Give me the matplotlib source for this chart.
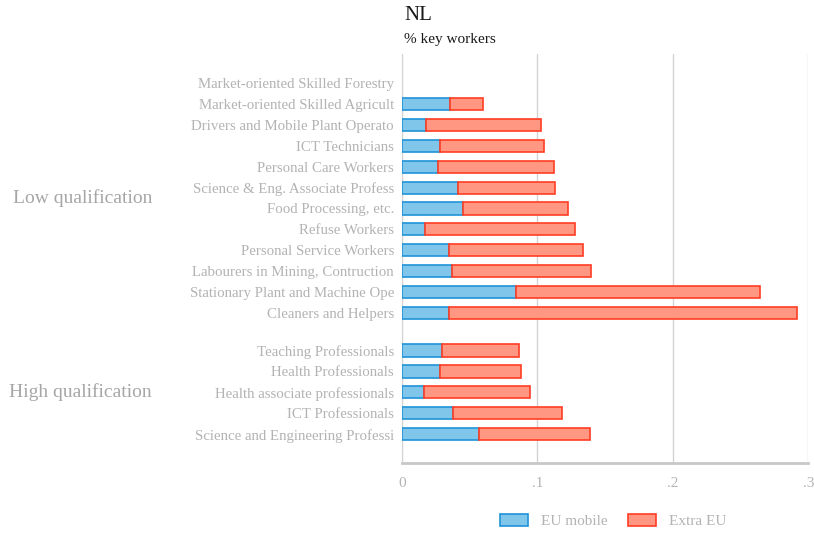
import matplotlib
matplotlib.use("Agg")
import matplotlib.pyplot as plt
import matplotlib.transforms as mtransforms
from matplotlib.patches import Patch

# Occupations, top to bottom within each qualification group
low_labels = [
    "Market-oriented Skilled Forestry",
    "Market-oriented Skilled Agricult",
    "Drivers and Mobile Plant Operato",
    "ICT Technicians",
    "Personal Care Workers",
    "Science & Eng. Associate Profess",
    "Food Processing, etc.",
    "Refuse Workers",
    "Personal Service Workers",
    "Labourers in Mining, Contruction",
    "Stationary Plant and Machine Ope",
    "Cleaners and Helpers",
]
low_eu = [0.0, 0.0353, 0.0176, 0.0282, 0.0267, 0.0414, 0.0451, 0.0174, 0.0346, 0.0368, 0.0846, 0.0348]
low_total = [0.0, 0.060, 0.1027, 0.1047, 0.112, 0.1128, 0.1225, 0.1282, 0.134, 0.140, 0.2642, 0.2917]

high_labels = [
    "Teaching Professionals",
    "Health Professionals",
    "Health associate professionals",
    "ICT Professionals",
    "Science and Engineering Professi",
]
high_eu = [0.030, 0.0285, 0.0164, 0.0378, 0.0571]
high_total = [0.0864, 0.0881, 0.0945, 0.1181, 0.1389]

group_names = ["Low qualification", "High qualification"]
x_ticks = [0, 0.1, 0.2, 0.3]
x_ticklabels = ["0", ".1", ".2", ".3"]

BLUE_FILL, BLUE_EDGE = "#80c6ea", "#1f93d8"
RED_FILL, RED_EDGE = "#ff9782", "#ff3d22"
GREY = "#b3b3b3"

plt.rcParams["font.family"] = ["Liberation Serif", "DejaVu Serif"]

# row positions: low group 0..11, then a gap before the high group
gap_start = 12.8
low_y = list(range(len(low_labels)))
high_y = [gap_start + i for i in range(len(high_labels))]

labels = low_labels + high_labels
ypos = low_y + high_y
eu = low_eu + high_eu
extra = [t - e for t, e in zip(low_total + high_total, low_eu + high_eu)]

fig = plt.figure(figsize=(8.14, 5.35), dpi=100)
ax = fig.add_axes([0.4935, 0.135, 0.4995, 0.764])

bh = 0.58
# empty categories get no outline
lw_eu = [1.2 if v > 0 else 0 for v in eu]
lw_extra = [1.2 if v > 0 else 0 for v in extra]
ax.barh(ypos, eu, height=bh, color=BLUE_FILL, edgecolor=BLUE_EDGE, linewidth=lw_eu, zorder=3)
ax.barh(ypos, extra, left=eu, height=bh, color=RED_FILL, edgecolor=RED_EDGE, linewidth=lw_extra, zorder=3)

ax.set_ylim(18.17, -1.39)
ax.set_xlim(0, 0.3)
ax.set_yticks(ypos)
ax.set_yticklabels(labels, fontsize=10.75, color=GREY)
ax.set_xticks(x_ticks)
ax.set_xticklabels(x_ticklabels, fontsize=11, color=GREY)
ax.tick_params(axis="y", length=0, pad=5.5)
ax.tick_params(axis="x", length=0, pad=10)

ax.grid(axis="x", color="#d4d4d4", linewidth=1, zorder=0)
for side in ("top", "right"):
    ax.spines[side].set_visible(False)
ax.spines["left"].set_color("#d4d4d4")
ax.spines["bottom"].set_color("#c8c8c8")
ax.spines["bottom"].set_linewidth(2)

# group labels on the far left
trans = mtransforms.blended_transform_factory(fig.transFigure, ax.transData)
group_centers = [sum(low_y) / len(low_y), sum(high_y) / len(high_y)]
for name, yc in zip(group_names, group_centers):
    ax.text(152 / 814, yc, name, transform=trans, ha="right", va="center",
            fontsize=14, color="#a6a6a6")

fig.text(404 / 814, 1 - 15 / 535, "NL", fontsize=15, color="#1a1a1a", va="center")
fig.text(404 / 814, 1 - 40 / 535, "% key workers", fontsize=11, color="#1a1a1a", va="center")

handles = [
    Patch(facecolor=BLUE_FILL, edgecolor=BLUE_EDGE, linewidth=1.2, label="EU mobile"),
    Patch(facecolor=RED_FILL, edgecolor=RED_EDGE, linewidth=1.2, label="Extra EU"),
]
leg = fig.legend(handles=handles, loc="center", bbox_to_anchor=(613 / 814, 1 - 521 / 535),
                 ncol=2, frameon=False, fontsize=11, handlelength=1.85, handleheight=0.8,
                 handletextpad=0.85, columnspacing=1.3)
for t in leg.get_texts():
    t.set_color(GREY)

fig.savefig("out.png", dpi=100)
